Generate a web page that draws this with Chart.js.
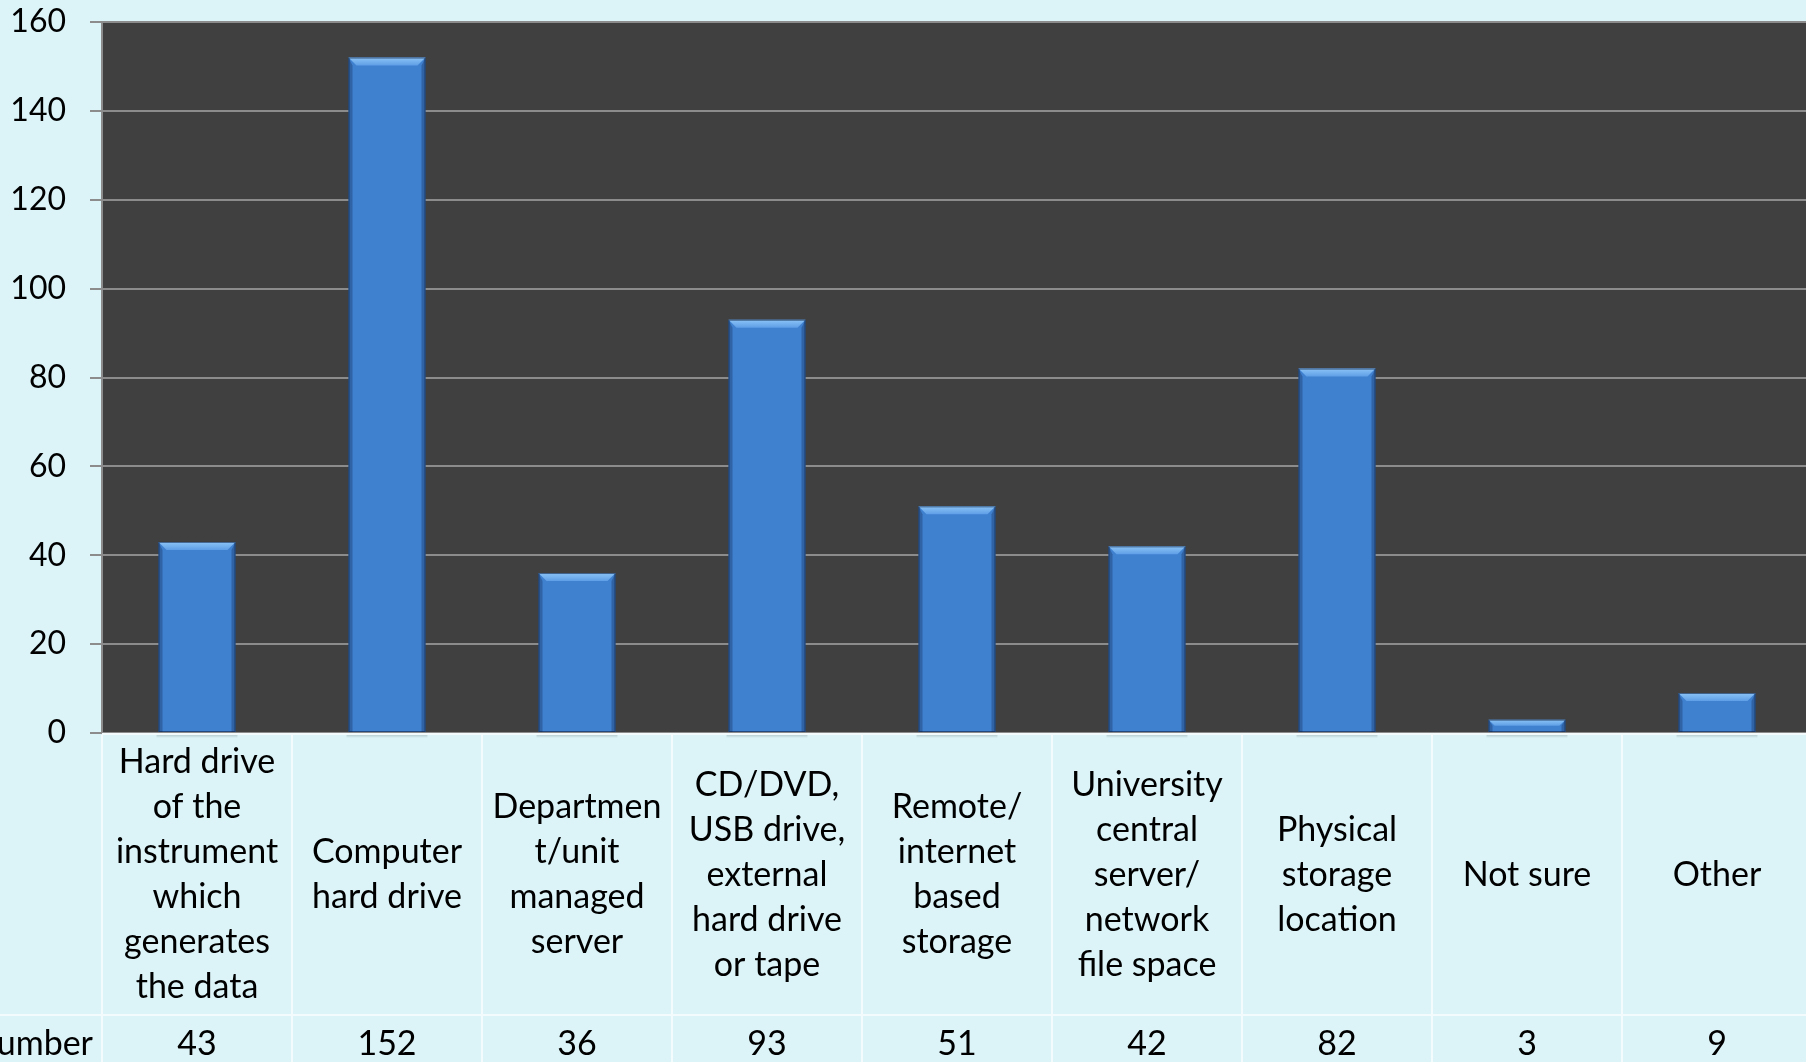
<!DOCTYPE html>
<html>
<head>
<meta charset="utf-8">
<title>Where research data is stored</title>
<script src="https://cdn.jsdelivr.net/npm/chart.js@4.4.1/dist/chart.umd.min.js"></script>
<style>
    html, body { margin: 0; padding: 0; overflow: hidden; background: #dcf4f8; }
    #wrap { position: relative; width: 1812px; height: 1062px; }
</style>
</head>
<body>
<div id="wrap"><canvas id="storage-chart"></canvas></div>
<script>
// Data
var categories = [
    ['Hard drive', 'of the', 'instrument', 'which', 'generates', 'the data'],
    ['Computer', 'hard drive'],
    ['Departmen', 't/unit', 'managed', 'server'],
    ['CD/DVD,', 'USB drive,', 'external', 'hard drive', 'or tape'],
    ['Remote/', 'internet', 'based', 'storage'],
    ['University', 'central', 'server/', 'network', 'file space'],
    ['Physical', 'storage', 'location'],
    ['Not sure'],
    ['Other']
];
var numberValues = [43, 152, 36, 93, 51, 42, 82, 3, 9];
var seriesName = 'Number';
var yTicks = [0, 20, 40, 60, 80, 100, 120, 140, 160];

var StorageChart = (function () {

    // Variables

    var canvas = document.getElementById('storage-chart');
    var FONT = 'Lato, "Noto Sans", sans-serif';
    var TABLE_LINE = '#f4fbfc';
    var ROW_SPLIT = 282;      // height of the label row below the plot
    var LINE_H = 45;

    // Methods

    function barGradient(context) {
        var chart = context.chart;
        var el = context.element;
        if (!chart.chartArea || !el) {
            return '#3f80cf';
        }
        var top = Math.min(el.y, el.base);
        var bottom = Math.max(el.y, el.base);
        if (!isFinite(top) || bottom - top < 1) {
            return '#3f80cf';
        }
        var g = chart.ctx.createLinearGradient(0, top, 0, bottom);
        g.addColorStop(0, '#4789da');
        g.addColorStop(1, '#3364a8');
        return g;
    }

    var plotBackground = {
        id: 'plotBackground',
        beforeDraw: function (chart) {
            var ctx = chart.ctx;
            var a = chart.chartArea;
            ctx.save();
            ctx.fillStyle = '#dcf4f8';
            ctx.fillRect(0, 0, chart.width, chart.height);
            ctx.fillStyle = '#404040';
            ctx.fillRect(a.left, a.top, a.right - a.left, a.bottom - a.top);
            ctx.restore();
        }
    };

    var barBevel = {
        id: 'barBevel',
        afterDatasetsDraw: function (chart) {
            var ctx = chart.ctx;
            var meta = chart.getDatasetMeta(0);
            ctx.save();
            meta.data.forEach(function (bar) {
                var x0 = bar.x - bar.width / 2;
                var x1 = bar.x + bar.width / 2;
                var y0 = bar.y;
                var yb = bar.base;
                var b = Math.min(8, (yb - y0) / 2);
                var s = 4;

                // shadow on the table under the bar
                var sh = ctx.createLinearGradient(0, yb, 0, yb + 6);
                sh.addColorStop(0, 'rgba(90,110,115,0.55)');
                sh.addColorStop(1, 'rgba(90,110,115,0)');
                ctx.fillStyle = sh;
                ctx.fillRect(x0 - 2, yb + 1, x1 - x0 + 4, 6);

                // left and right bevels
                ctx.fillStyle = 'rgba(20,45,90,0.35)';
                ctx.beginPath();
                ctx.moveTo(x0, y0); ctx.lineTo(x0 + s, y0 + b);
                ctx.lineTo(x0 + s, yb); ctx.lineTo(x0, yb);
                ctx.closePath(); ctx.fill();
                ctx.beginPath();
                ctx.moveTo(x1, y0); ctx.lineTo(x1 - s, y0 + b);
                ctx.lineTo(x1 - s, yb); ctx.lineTo(x1, yb);
                ctx.closePath(); ctx.fill();

                // top bevel
                var tg = ctx.createLinearGradient(0, y0, 0, y0 + b);
                tg.addColorStop(0, '#8cc4f6');
                tg.addColorStop(1, '#5e9ee6');
                ctx.fillStyle = tg;
                ctx.beginPath();
                ctx.moveTo(x0, y0); ctx.lineTo(x1, y0);
                ctx.lineTo(x1 - b, y0 + b); ctx.lineTo(x0 + b, y0 + b);
                ctx.closePath(); ctx.fill();

                ctx.strokeStyle = 'rgba(15,35,70,0.6)';
                ctx.lineWidth = 1;
                ctx.strokeRect(x0 + 0.5, y0 + 0.5, x1 - x0 - 1, yb - y0 - 1);
            });
            ctx.restore();
        }
    };

    var dataTable = {
        id: 'dataTable',
        afterDraw: function (chart) {
            var ctx = chart.ctx;
            var a = chart.chartArea;
            var x = chart.scales.x;
            var half = (x.getPixelForValue(1) - x.getPixelForValue(0)) / 2;
            var rowY = a.bottom + ROW_SPLIT;
            ctx.save();

            // table lines
            ctx.strokeStyle = TABLE_LINE;
            ctx.lineWidth = 2;
            ctx.beginPath();
            ctx.moveTo(a.left, a.bottom + 1);
            ctx.lineTo(chart.width, a.bottom + 1);
            ctx.moveTo(0, rowY);
            ctx.lineTo(chart.width, rowY);
            for (var i = 0; i <= categories.length; i++) {
                var cx = a.left + i * half * 2;
                ctx.moveTo(cx, a.bottom + 2);
                ctx.lineTo(cx, chart.height);
            }
            ctx.stroke();

            // labels and values
            ctx.fillStyle = '#000';
            ctx.font = '34px ' + FONT;
            ctx.textAlign = 'center';
            ctx.textBaseline = 'middle';
            var mid = a.bottom + ROW_SPLIT / 2 + 1;
            categories.forEach(function (lines, i) {
                var px = x.getPixelForValue(i);
                var start = mid - (lines.length - 1) * LINE_H / 2;
                lines.forEach(function (line, j) {
                    ctx.fillText(line, px, start + j * LINE_H);
                });
                ctx.fillText(String(numberValues[i]), px, rowY + 29);
            });
            ctx.textAlign = 'right';
            ctx.fillText(seriesName, a.left - 9, rowY + 29);
            ctx.restore();
        }
    };

    function init() {

        var chart = new Chart(canvas, {
            type: 'bar',
            data: {
                labels: categories.map(function (c) { return c.join(' '); }),
                datasets: [{
                    label: seriesName,
                    data: numberValues,
                    backgroundColor: barGradient,
                    borderWidth: 0,
                    barPercentage: 0.405,
                    categoryPercentage: 1
                }]
            },
            options: {
                responsive: true,
                maintainAspectRatio: false,
                animation: false,
                events: [],
                layout: {
                    padding: { top: 22, right: 0, bottom: 329, left: 0 }
                },
                plugins: {
                    legend: { display: false },
                    tooltip: { enabled: false }
                },
                scales: {
                    x: {
                        display: false,
                        grid: { display: false }
                    },
                    y: {
                        min: yTicks[0],
                        max: yTicks[yTicks.length - 1],
                        afterBuildTicks: function (scale) {
                            scale.ticks = yTicks.map(function (v) { return { value: v }; });
                        },
                        afterFit: function (scale) {
                            scale.width = 102;
                            scale.paddingTop = 0;
                            scale.paddingBottom = 0;
                        },
                        border: { color: '#8c8c8c', width: 2 },
                        grid: {
                            color: '#8c8c8c',
                            lineWidth: 2,
                            tickLength: 12
                        },
                        ticks: {
                            color: '#000',
                            padding: 24,
                            font: { family: FONT, size: 32 }
                        }
                    }
                }
            },
            plugins: [plotBackground, barBevel, dataTable]
        });

        canvas.chart = chart;
    }

    // Events

    init();

})();
</script>
</body>
</html>
